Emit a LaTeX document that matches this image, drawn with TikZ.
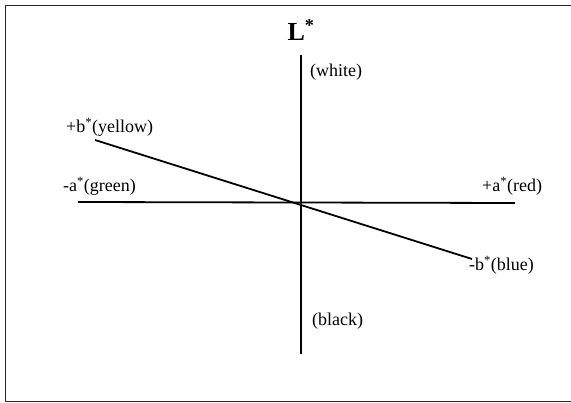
\documentclass[tikz,border=0pt]{standalone}
\usepackage{fontspec}
\setmainfont{Liberation Serif}
\usetikzlibrary{positioning}
\tikzset{
  axis/.style={draw=black, line width=1.8pt},
  frameline/.style={draw=black!85, line width=1pt},
  lbl/.style={anchor=west, inner sep=0pt, font=\fontsize{18}{21}\selectfont},
  title/.style={inner sep=0pt, font=\fontsize{26}{28}\selectfont\bfseries},
}

\begin{document}
\begin{tikzpicture}[x=1pt, y=-1pt]
  \useasboundingbox (0,0) rectangle (571,403);
  % frame, right side runs off the page
  \draw[frameline] (572,6) -- (5,6) -- (5,402) -- (572,402);
  % axis end points
  \coordinate (Ltop) at (301,55);
  \coordinate (Lbot) at (301,354);
  \coordinate (aneg) at (78,202);
  \coordinate (apos) at (515,203);
  \coordinate (bpos) at (95,140);
  \coordinate (bneg) at (472,259);
  \draw[axis] (Ltop) -- (Lbot);
  \draw[axis] (aneg) -- (apos);
  \draw[axis] (bpos) -- (bneg);
  % labels
  \node[title] (lstar) at (301,30) {L\textsuperscript{*}};
  \node[lbl] (white) at (310,72) {(white)};
  \node[lbl] (black) at (312,321) {(black)};
  \node[lbl] (yellow) at (66,127) {+b\textsuperscript{*}(yellow)};
  \node[lbl] (green) at (63,186) {-a\textsuperscript{*}(green)};
  \node[lbl] (red) at (482,186) {+a\textsuperscript{*}(red)};
  \node[lbl] (blue) at (469,265) {-b\textsuperscript{*}(blue)};
\end{tikzpicture}
\end{document}
